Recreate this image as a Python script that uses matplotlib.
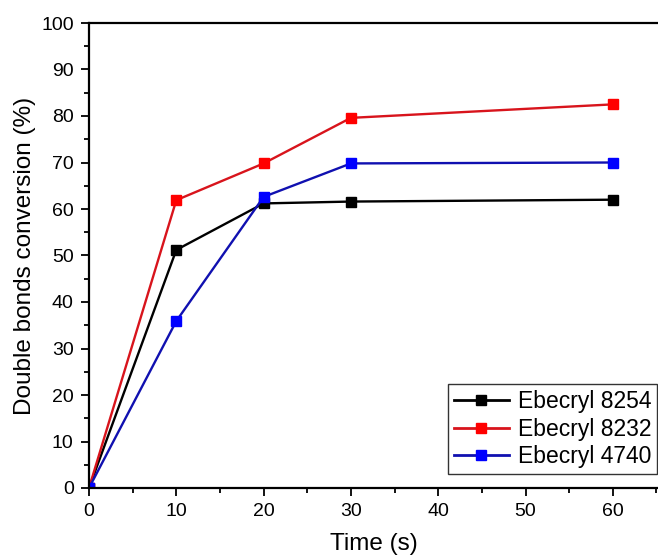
import matplotlib
matplotlib.use('Agg')
import matplotlib.pyplot as plt
from matplotlib.ticker import MultipleLocator

plt.rcParams['font.family'] = ['Liberation Sans', 'DejaVu Sans']

# data
time_s = [0, 10, 20, 30, 60]
ebecryl_8254 = [0, 51.2, 61.2, 61.6, 62.0]
ebecryl_8232 = [0, 61.9, 69.8, 79.6, 82.5]
ebecryl_4740 = [0, 35.9, 62.6, 69.8, 70.0]
series = [('Ebecryl 8254', ebecryl_8254, 'black', 'black'),
          ('Ebecryl 8232', ebecryl_8232, '#d8141c', '#ff0000'),
          ('Ebecryl 4740', ebecryl_4740, '#1010b0', '#0000ff')]

fig = plt.figure(figsize=(6.58, 5.60), dpi=100)
ax = fig.add_axes([89 / 658, 1 - 488 / 560, 1 - 89 / 658, (488 - 23) / 560])

for name, vals, lc, mc in series:
    ax.plot(time_s, vals, color=lc, lw=1.7, marker='s', ms=6.5,
            mfc=mc, mec=mc, label=name)

ax.set_xlim(0, (658 - 89) / 8.73)
ax.set_ylim(0, 100)
ax.xaxis.set_major_locator(MultipleLocator(10))
ax.xaxis.set_minor_locator(MultipleLocator(5))
ax.yaxis.set_major_locator(MultipleLocator(10))
ax.yaxis.set_minor_locator(MultipleLocator(5))
ax.tick_params(which='both', direction='out', width=1.3, labelsize=14, pad=5)
ax.tick_params(which='major', length=6)
ax.tick_params(which='minor', length=3.5)
ax.spines['right'].set_visible(False)
for s in ['left', 'bottom', 'top']:
    ax.spines[s].set_linewidth(1.6)

ax.set_xlabel('Time (s)', fontsize=17.5, labelpad=9)
ax.set_ylabel('Double bonds conversion (%)', fontsize=17.5, labelpad=4)

leg = ax.legend(loc='lower right', bbox_to_anchor=(657 / 658, 1 - 474 / 560),
                bbox_transform=fig.transFigure, borderaxespad=0, fontsize=16.5,
                frameon=True, fancybox=False, edgecolor='black',
                handlelength=2.4, borderpad=0.25, labelspacing=0.2,
                handletextpad=0.4)
leg.get_frame().set_linewidth(1.0)
for h in leg.legend_handles:
    h.set_linewidth(2.0)
    h.set_markersize(7.5)

fig.savefig('out.png', dpi=100)
